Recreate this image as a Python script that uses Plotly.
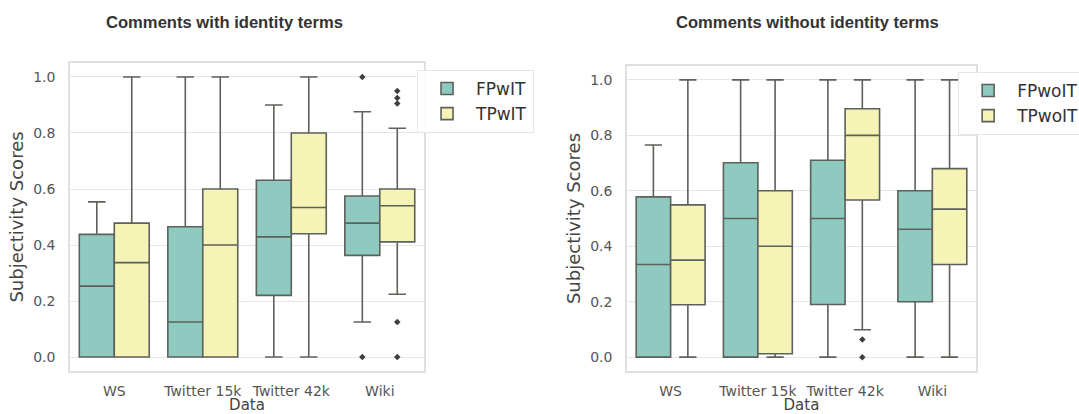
import plotly.graph_objects as go

categories = ["WS", "Twitter 15k", "Twitter 42k", "Wiki"]

# Comments with identity terms
fpwit_lower = [0.0, 0.0, 0.0, 0.125]
fpwit_q1 = [0.0, 0.0, 0.22, 0.363]
fpwit_median = [0.253, 0.125, 0.429, 0.478]
fpwit_q3 = [0.438, 0.465, 0.631, 0.575]
fpwit_upper = [0.554, 1.0, 0.9, 0.876]
fpwit_out_cat = ["Wiki", "Wiki"]
fpwit_out_val = [1.0, 0.0]

tpwit_lower = [0.0, 0.0, 0.0, 0.224]
tpwit_q1 = [0.0, 0.0, 0.44, 0.411]
tpwit_median = [0.337, 0.4, 0.534, 0.54]
tpwit_q3 = [0.478, 0.6, 0.8, 0.6]
tpwit_upper = [1.0, 1.0, 1.0, 0.817]
tpwit_out_cat = ["Wiki", "Wiki", "Wiki", "Wiki", "Wiki"]
tpwit_out_val = [0.95, 0.925, 0.905, 0.125, 0.0]

# Comments without identity terms
fpwoit_lower = [0.0, 0.0, 0.0, 0.0]
fpwoit_q1 = [0.0, 0.0, 0.19, 0.2]
fpwoit_median = [0.334, 0.5, 0.5, 0.461]
fpwoit_q3 = [0.578, 0.701, 0.71, 0.6]
fpwoit_upper = [0.765, 1.0, 1.0, 1.0]

tpwoit_lower = [0.0, 0.0, 0.099, 0.0]
tpwoit_q1 = [0.189, 0.012, 0.567, 0.334]
tpwoit_median = [0.35, 0.4, 0.8, 0.534]
tpwoit_q3 = [0.549, 0.6, 0.896, 0.68]
tpwoit_upper = [1.0, 1.0, 1.0, 1.0]
tpwoit_out_cat = ["Twitter 42k", "Twitter 42k"]
tpwoit_out_val = [0.064, 0.0]

TEAL = "#8fcac0"
YELLOW = "#f5f3b5"
EDGE = "#5d615a"


def make_box(name, lower, q1, med, q3, upper, color, xaxis, yaxis, legend, og):
    return go.Box(
        name=name,
        x=categories,
        q1=q1, median=med, q3=q3,
        lowerfence=lower, upperfence=upper,
        fillcolor=color,
        line=dict(color=EDGE, width=1.6),
        boxpoints=False,
        whiskerwidth=0.5,
        xaxis=xaxis, yaxis=yaxis, legend=legend,
        offsetgroup=og,
    )


def make_outliers(cats, vals, xaxis, yaxis, og):
    return go.Box(
        x=cats, y=vals,
        boxpoints="all", jitter=0, pointpos=0,
        fillcolor="rgba(0,0,0,0)",
        line=dict(color="rgba(0,0,0,0)", width=0),
        marker=dict(symbol="diamond", color="#3f3f3f", size=5),
        xaxis=xaxis, yaxis=yaxis, offsetgroup=og,
        showlegend=False, hoverinfo="y",
    )


fig = go.Figure()
fig.add_trace(make_box("FPwIT", fpwit_lower, fpwit_q1, fpwit_median, fpwit_q3, fpwit_upper,
                       TEAL, "x", "y", "legend", "a"))
fig.add_trace(make_box("TPwIT", tpwit_lower, tpwit_q1, tpwit_median, tpwit_q3, tpwit_upper,
                       YELLOW, "x", "y", "legend", "b"))
fig.add_trace(make_outliers(fpwit_out_cat, fpwit_out_val, "x", "y", "a"))
fig.add_trace(make_outliers(tpwit_out_cat, tpwit_out_val, "x", "y", "b"))

fig.add_trace(make_box("FPwoIT", fpwoit_lower, fpwoit_q1, fpwoit_median, fpwoit_q3, fpwoit_upper,
                       TEAL, "x2", "y2", "legend2", "a"))
fig.add_trace(make_box("TPwoIT", tpwoit_lower, tpwoit_q1, tpwoit_median, tpwoit_q3, tpwoit_upper,
                       YELLOW, "x2", "y2", "legend2", "b"))
fig.add_trace(make_outliers(tpwoit_out_cat, tpwoit_out_val, "x2", "y2", "b"))

tick_font = dict(family="DejaVu Sans", size=14, color="#555555")
xtitle_font = dict(family="DejaVu Sans", size=15, color="#444444")
ytitle_font = dict(family="DejaVu Sans", size=18, color="#444444")

xcommon = dict(
    type="category", categoryorder="array", categoryarray=categories,
    range=[-0.5, 3.5], showgrid=False, zeroline=False,
    showline=True, mirror=True, linecolor="#e0e0e0", linewidth=1.5,
    tickfont=tick_font, ticks="", ticklabelstandoff=6,
    title=dict(text="Data", font=xtitle_font, standoff=8),
)
ycommon = dict(
    range=[-0.05, 1.05], tickvals=[0, 0.2, 0.4, 0.6, 0.8, 1.0],
    ticktext=["0.0", "0.2", "0.4", "0.6", "0.8", "1.0"],
    showgrid=True, gridcolor="#e6e6e6", gridwidth=1.2, zeroline=False,
    showline=True, mirror=True, linecolor="#e0e0e0", linewidth=1.5,
    tickfont=tick_font, ticks="", ticklabelstandoff=10,
    title=dict(text="Subjectivity Scores", font=ytitle_font, standoff=5),
)

legend_common = dict(
    xanchor="left", yanchor="top",
    bgcolor="rgba(255,255,255,0.9)", bordercolor="#e6e6e6", borderwidth=1,
    font=dict(family="DejaVu Sans", size=17, color="#333333"),
    tracegroupgap=2, itemwidth=48,
)

fig.update_layout(
    width=1079, height=414,
    margin=dict(l=0, r=0, t=0, b=12, autoexpand=False),
    paper_bgcolor="white", plot_bgcolor="white",
    boxmode="group", boxgap=0.21, boxgroupgap=0.0,
    xaxis=dict(domain=[0.0649, 0.3930], anchor="y", **xcommon),
    yaxis=dict(domain=[0.0771, 0.8433], anchor="x", **ycommon),
    xaxis2=dict(domain=[0.5811, 0.9045], anchor="y2", **xcommon),
    yaxis2=dict(domain=[0.0771, 0.8358], anchor="x2", **ycommon),
    legend=dict(x=0.3865, y=0.8259, **legend_common),
    legend2=dict(x=0.888, y=0.8209, **legend_common),
    showlegend=True,
    annotations=[
        dict(text="<b>Comments with identity terms</b>", x=0.2076, y=0.9445,
             xref="paper", yref="paper", xanchor="center", yanchor="middle", showarrow=False,
             font=dict(family="Liberation Sans", size=16.6, color="#333333")),
        dict(text="<b>Comments without identity terms</b>", x=0.7488, y=0.9445,
             xref="paper", yref="paper", xanchor="center", yanchor="middle", showarrow=False,
             font=dict(family="Liberation Sans", size=16.6, color="#333333")),
    ],
)

fig.write_html("out.html")
